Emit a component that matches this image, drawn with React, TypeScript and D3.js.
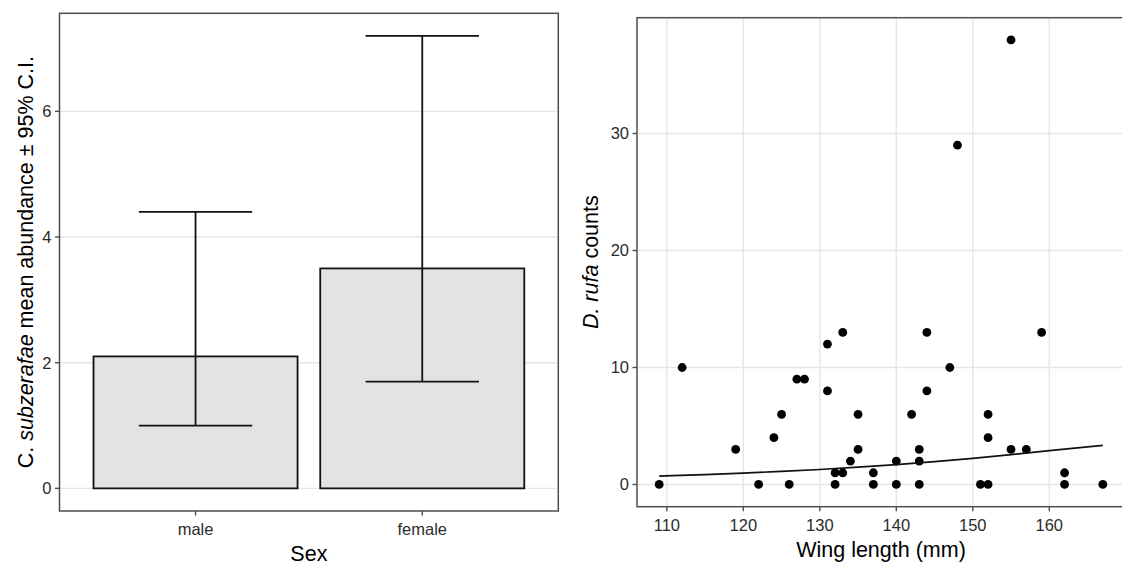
import React from "react";
import * as d3 from "d3";

// left panel: bar chart with 95% CI
const sexCategories = ["male", "female"];
const meanAbundance = [2.1, 3.5];
const ciLower = [1.0, 1.7];
const ciUpper = [4.4, 7.2];
const abundanceTicks = [0, 2, 4, 6];

// right panel: scatter + fitted curve
const wingLength = [
  109, 112, 119, 122, 124, 125, 126, 127, 128, 131, 131, 132, 132, 133, 133, 134, 135, 135, 137, 137, 140,
  140, 142, 143, 143, 143, 144, 144, 147, 148, 151, 152, 152, 152, 155, 155, 157, 159, 162, 162, 167,
];
const rufaCounts = [
  0, 10, 3, 0, 4, 6, 0, 9, 9, 12, 8, 1, 0, 13, 1, 2, 6, 3, 1, 0, 2,
  0, 6, 3, 2, 0, 13, 8, 10, 29, 0, 6, 4, 0, 38, 3, 3, 13, 1, 0, 0,
];
const fitWing = [109, 115, 120, 125, 130, 135, 140, 145, 150, 155, 160, 167];
const fitCounts = [0.72, 0.85, 0.97, 1.12, 1.28, 1.48, 1.7, 1.95, 2.23, 2.55, 2.9, 3.35];
const wingTicks = [110, 120, 130, 140, 150, 160];
const countTicks = [0, 10, 20, 30];

const font = "'Liberation Sans', Arial, sans-serif";
const tickSize = 16.5;
const titleSize = 21.5;
const tickColor = "#2b2b2b";
const borderColor = "#4d4d4d";
const gridColor = "#e6e6e6";
const ink = "#111";

const expand = (lo: number, hi: number) => {
  const p = (hi - lo) * 0.05;
  return [lo - p, hi + p];
};

const L = { left: 59.5, right: 558.3, top: 13.3, bottom: 511 };
const R = { left: 637, right: 1125, top: 17.7, bottom: 506.7 };

export default function App() {
  const xSex = d3.scalePoint<string>().domain(sexCategories).range([L.left, L.right]).padding(0.6);
  const step = xSex.step();
  const yAb = d3
    .scaleLinear()
    .domain(expand(0, d3.max(ciUpper) as number))
    .range([L.bottom, L.top]);

  const xW = d3
    .scaleLinear()
    .domain(expand(d3.min(wingLength) as number, d3.max(wingLength) as number))
    .range([R.left, R.right]);
  const yC = d3
    .scaleLinear()
    .domain(expand(0, d3.max(rufaCounts) as number))
    .range([R.bottom, R.top]);

  const fitLine = d3
    .line<number>()
    .x((d, i) => xW(fitWing[i]))
    .y((d) => yC(d))
    .curve(d3.curveMonotoneX);

  return (
    <svg
      width={1122}
      height={565}
      style={{ position: "absolute", left: 0, top: 0, background: "#fff" }}
      fontFamily={font}
    >
      {/* ---------- left panel ---------- */}
      <rect x={L.left} y={L.top} width={L.right - L.left} height={L.bottom - L.top} fill="#fff" />
      {abundanceTicks.map((t) => (
        <line key={t} x1={L.left} x2={L.right} y1={yAb(t)} y2={yAb(t)} stroke={gridColor} strokeWidth={1.4} />
      ))}
      {sexCategories.map((c, i) => {
        const cx = xSex(c) as number;
        const bw = step * 0.9;
        const cw = step * 0.5;
        return (
          <g key={c}>
            <rect
              x={cx - bw / 2}
              y={yAb(meanAbundance[i])}
              width={bw}
              height={yAb(0) - yAb(meanAbundance[i])}
              fill="#e3e3e3"
              stroke={ink}
              strokeWidth={1.8}
            />
            <line x1={cx} x2={cx} y1={yAb(ciLower[i])} y2={yAb(ciUpper[i])} stroke={ink} strokeWidth={1.8} />
            <line x1={cx - cw / 2} x2={cx + cw / 2} y1={yAb(ciLower[i])} y2={yAb(ciLower[i])} stroke={ink} strokeWidth={1.8} />
            <line x1={cx - cw / 2} x2={cx + cw / 2} y1={yAb(ciUpper[i])} y2={yAb(ciUpper[i])} stroke={ink} strokeWidth={1.8} />
          </g>
        );
      })}
      <rect
        x={L.left}
        y={L.top}
        width={L.right - L.left}
        height={L.bottom - L.top}
        fill="none"
        stroke={borderColor}
        strokeWidth={1.5}
      />
      {abundanceTicks.map((t) => (
        <g key={t} transform={`translate(${L.left},${yAb(t)})`}>
          <line x1={-4.5} x2={0} stroke={borderColor} strokeWidth={1.4} />
          <text x={-8} dy="0.36em" textAnchor="end" fontSize={tickSize} fill={tickColor}>
            {t}
          </text>
        </g>
      ))}
      {sexCategories.map((c) => (
        <g key={c} transform={`translate(${xSex(c)},${L.bottom})`}>
          <line y1={0} y2={4.5} stroke={borderColor} strokeWidth={1.4} />
          <text y={24} textAnchor="middle" fontSize={tickSize} fill={tickColor}>
            {c}
          </text>
        </g>
      ))}
      <text x={(L.left + L.right) / 2} y={561} textAnchor="middle" fontSize={titleSize} fill="#000">
        Sex
      </text>
      <text
        transform={`translate(33,${(L.top + L.bottom) / 2}) rotate(-90)`}
        textAnchor="middle"
        fontSize={titleSize}
        fill="#000"
      >
        C. <tspan fontStyle="italic">subzerafae</tspan> mean abundance ± 95% C.I.
      </text>

      {/* ---------- right panel ---------- */}
      <rect x={R.left} y={R.top} width={R.right - R.left} height={R.bottom - R.top} fill="#fff" />
      {countTicks.map((t) => (
        <line key={t} x1={R.left} x2={R.right} y1={yC(t)} y2={yC(t)} stroke={gridColor} strokeWidth={1.4} />
      ))}
      {wingTicks.map((t) => (
        <line key={t} x1={xW(t)} x2={xW(t)} y1={R.top} y2={R.bottom} stroke={gridColor} strokeWidth={1.4} />
      ))}
      {wingLength.map((w, i) => (
        <circle key={i} cx={xW(w)} cy={yC(rufaCounts[i])} r={4.4} fill="#000" />
      ))}
      <path d={fitLine(fitCounts) || ""} fill="none" stroke={ink} strokeWidth={1.7} />
      <rect
        x={R.left}
        y={R.top}
        width={R.right - R.left}
        height={R.bottom - R.top}
        fill="none"
        stroke={borderColor}
        strokeWidth={1.5}
      />
      {countTicks.map((t) => (
        <g key={t} transform={`translate(${R.left},${yC(t)})`}>
          <line x1={-4.5} x2={0} stroke={borderColor} strokeWidth={1.4} />
          <text x={-8} dy="0.36em" textAnchor="end" fontSize={tickSize} fill={tickColor}>
            {t}
          </text>
        </g>
      ))}
      {wingTicks.map((t) => (
        <g key={t} transform={`translate(${xW(t)},${R.bottom})`}>
          <line y1={0} y2={4.5} stroke={borderColor} strokeWidth={1.4} />
          <text y={24} textAnchor="middle" fontSize={tickSize} fill={tickColor}>
            {t}
          </text>
        </g>
      ))}
      <text x={(R.left + R.right) / 2} y={556.5} textAnchor="middle" fontSize={titleSize} fill="#000">
        Wing length (mm)
      </text>
      <text
        transform={`translate(598,${(R.top + R.bottom) / 2}) rotate(-90)`}
        textAnchor="middle"
        fontSize={titleSize}
        fill="#000"
      >
        <tspan fontStyle="italic">D. rufa</tspan> counts
      </text>
    </svg>
  );
}
